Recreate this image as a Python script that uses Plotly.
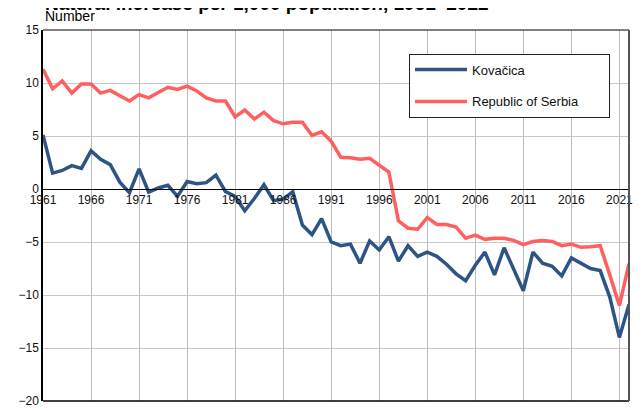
import plotly.graph_objects as go

years = list(range(1961, 2023))

kovacica = [5.1, 1.5, 1.75, 2.2, 1.95, 3.6, 2.8, 2.3, 0.65, -0.35,
            1.9, -0.3, 0.1, 0.35, -0.7, 0.7, 0.5, 0.6, 1.3, -0.25,
            -0.7, -2.05, -0.9, 0.4, -1.1, -0.95, -0.25, -3.4, -4.3, -2.8,
            -5.0, -5.35, -5.2, -7.0, -4.9, -5.75, -4.5, -6.8, -5.35, -6.35,
            -5.95, -6.35, -7.1, -8.0, -8.65, -7.2, -5.95, -8.1, -5.55, -7.5,
            -9.6, -5.95, -7.0, -7.3, -8.2, -6.5, -7.0, -7.5, -7.7, -10.2,
            -14.0, -10.9]

serbia = [11.3, 9.45, 10.2, 9.05, 9.9, 9.9, 9.05, 9.3, 8.8, 8.3,
          8.9, 8.6, 9.1, 9.6, 9.4, 9.7, 9.25, 8.6, 8.3, 8.3,
          6.8, 7.45, 6.6, 7.25, 6.45, 6.15, 6.3, 6.3, 5.05, 5.4,
          4.5, 3.0, 2.95, 2.8, 2.9, 2.25, 1.6, -3.0, -3.7, -3.8,
          -2.7, -3.35, -3.35, -3.6, -4.65, -4.35, -4.75, -4.65, -4.65, -4.85,
          -5.25, -4.95, -4.85, -4.95, -5.35, -5.2, -5.5, -5.45, -5.35, -8.1,
          -11.0, -7.05]

x_ticks = list(range(1961, 2022, 5))
y_ticks = list(range(-20, 16, 5))

FONT = "Liberation Sans, Arial, sans-serif"

fig = go.Figure()
fig.add_trace(go.Scatter(x=years, y=kovacica, mode="lines", name="Kovačica",
                         line=dict(color="#2e5485", width=3.5), legendgroup="a"))
fig.add_trace(go.Scatter(x=years, y=serbia, mode="lines",
                         name="Republic of Serbia" + "\u00a0" * 7,
                         line=dict(color="#ff5f5f", width=3.5), legendgroup="b"))

zero_frac = 20 / 35
PH = 378.0

fig.update_layout(
    width=636, height=404,
    margin=dict(l=35, r=15, t=22, b=4),
    paper_bgcolor="white", plot_bgcolor="white",
    font=dict(family=FONT, size=12, color="#111"),
    showlegend=True,
    legend=dict(x=(409 - 43) / 586, y=(408 - 54) / PH, xanchor="left", yanchor="top",
                bordercolor="#222", borderwidth=1, bgcolor="white",
                font=dict(size=13), tracegroupgap=12, traceorder="grouped",
                itemwidth=52),
    xaxis=dict(range=[1961, 2022], tickvals=x_ticks, ticktext=[str(v) for v in x_ticks],
               showgrid=True, gridcolor="#bdbdbd", gridwidth=1,
               anchor="free", position=zero_frac,
               showline=True, linecolor="black", linewidth=1,
               ticks="", zeroline=False, tickfont=dict(size=12)),
    yaxis=dict(range=[-20, 15], tickvals=y_ticks,
               showgrid=True, gridcolor="#c8c8c8", gridwidth=1,
               showline=True, linecolor="black", linewidth=1.5,
               ticks="", zeroline=False, tickfont=dict(size=12),
               ticklabeloverflow="allow"),
    shapes=[
        dict(type="line", xref="paper", yref="paper", x0=0, x1=1, y0=1, y1=1,
             line=dict(color="black", width=1)),
        dict(type="line", xref="paper", yref="paper", x0=0, x1=1, y0=0, y1=0,
             line=dict(color="black", width=1.5)),
        dict(type="line", xref="paper", yref="paper", x0=1, x1=1, y0=0, y1=1,
             line=dict(color="#555", width=2)),
    ],
    annotations=[
        dict(text="<b>Natural increase per 1,000 population, 1961–2022</b>",
             xref="paper", yref="paper", x=0, y=1 + 26.5 / PH, xanchor="left", yanchor="middle",
             showarrow=False, font=dict(size=19, color="black")),
        dict(text="Number", xref="paper", yref="paper", x=0, y=1 + 14 / PH,
             xanchor="left", yanchor="middle", showarrow=False,
             font=dict(size=14, color="black")),
    ],
)

fig.write_html("out.html")
